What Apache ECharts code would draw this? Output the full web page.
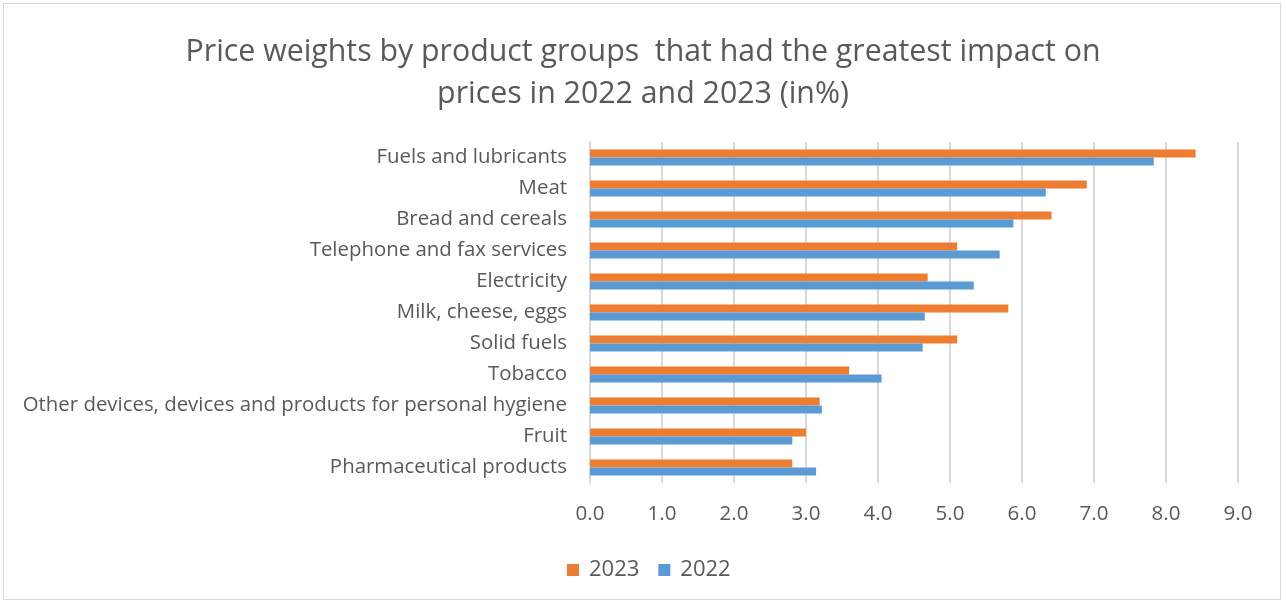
<!DOCTYPE html>
<html>
<head>
<meta charset="utf-8">
<script src="https://cdn.jsdelivr.net/npm/echarts@6/dist/echarts.min.js"></script>
<style>
html,body{margin:0;padding:0;background:#fff;}
#frame{position:absolute;left:3px;top:3px;width:1278px;height:597px;border:1px solid #d9d9d9;box-sizing:border-box;}
#chart{position:absolute;left:0;top:0;width:1286px;height:605px;}
</style>
</head>
<body>
<div id="frame"></div>
<div id="chart"></div>
<script>
const categories = [
  "Fuels and lubricants",
  "Meat",
  "Bread and cereals",
  "Telephone and fax services",
  "Electricity",
  "Milk, cheese, eggs",
  "Solid fuels",
  "Tobacco",
  "Other devices, devices and products for personal hygiene",
  "Fruit",
  "Pharmaceutical products"
];
const values2023 = [8.41, 6.90, 6.41, 5.10, 4.69, 5.81, 5.10, 3.60, 3.19, 3.00, 2.81];
const values2022 = [7.83, 6.33, 5.88, 5.69, 5.33, 4.65, 4.62, 4.05, 3.22, 2.81, 3.14];
const xTicks = [0, 1, 2, 3, 4, 5, 6, 7, 8, 9];

const FONT = "'Open Sans', 'Noto Sans', sans-serif";
const TXT = '#595959';
const chart = echarts.init(document.getElementById('chart'));
chart.setOption({
  animation: false,
  title: {
    text: 'Price weights by product groups  that had the greatest impact on\nprices in 2022 and 2023 (in%)',
    left: 'center',
    top: 26,
    textStyle: {fontFamily: FONT, fontSize: 30.3, fontWeight: 'normal', color: TXT, lineHeight: 42}
  },
  legend: {
    left: 562,
    top: 554,
    itemWidth: 12,
    itemHeight: 12,
    itemGap: 19,
    icon: 'rect',
    textStyle: {fontFamily: FONT, fontSize: 22, color: TXT, padding: [0, 0, 0, 5]},
    data: ['2023', '2022']
  },
  grid: {left: 590, right: 48, top: 142, bottom: 122},
  xAxis: {
    type: 'value',
    min: xTicks[0],
    max: xTicks[xTicks.length - 1],
    interval: 1,
    axisLine: {show: false},
    axisTick: {show: false},
    splitLine: {lineStyle: {color: '#d9d9d9', width: 2}},
    axisLabel: {fontFamily: FONT, fontSize: 20.5, color: TXT, margin: 21,
      formatter: v => v.toFixed(1)}
  },
  yAxis: {
    type: 'category',
    inverse: true,
    data: categories,
    axisLine: {show: true, lineStyle: {color: '#d9d9d9', width: 2}},
    axisTick: {show: false},
    axisLabel: {fontFamily: FONT, fontSize: 20.4, color: TXT, margin: 23}
  },
  series: [
    {name: '2023', type: 'bar', data: values2023, barWidth: 8, barGap: '0%',
     itemStyle: {color: '#ED7D31'}},
    {name: '2022', type: 'bar', data: values2022, barWidth: 8, barGap: '0%',
     itemStyle: {color: '#5B9BD5'}}
  ]
});
</script>
</body>
</html>
